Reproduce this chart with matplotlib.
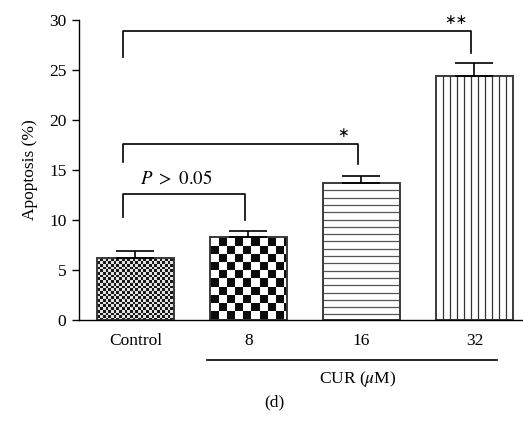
import numpy as np
import matplotlib
matplotlib.use("Agg")
import matplotlib.pyplot as plt

plt.rcParams["font.family"] = ["Liberation Serif", "DejaVu Serif"]
plt.rcParams["mathtext.fontset"] = "stix"

groups = ["Control", "8", "16", "32"]
apoptosis = [6.2, 8.3, 13.7, 24.4]
sem = [0.7, 0.6, 0.7, 1.3]
textures = ["fine_check", "coarse_check", "hlines", "vlines"]

# significance brackets: (left group, right group, bracket top, left leg end, right leg end, label)
brackets = [
    (0, 1, 12.6, 10.3, 10.0, r"$P\ >\ \mathrm{0.05}$"),
    (0, 2, 17.6, 15.8, 15.6, "*"),
    (0, 3, 28.9, 26.3, 26.7, "**"),
]

DPI = 100
fig = plt.figure(figsize=(5.23, 4.23), dpi=DPI)
ax = fig.add_axes([0.151, 0.2435, 0.849, 0.7092])

x = np.arange(len(groups))
bars = ax.bar(x, apoptosis, width=0.68, color="none", edgecolor="#3a3a3a",
              linewidth=1.4, zorder=2)
ax.errorbar(x, apoptosis, yerr=[np.zeros(len(sem)), sem], fmt="none",
            ecolor="black", elinewidth=1.2, capsize=14, capthick=1.2, zorder=4)

ax.set_xlim(-0.5, 3.43)
ax.set_ylim(0, 30)
ax.set_yticks(range(0, 31, 5))
ax.set_xticks([])
for side in ("top", "right"):
    ax.spines[side].set_visible(False)
ax.spines["left"].set_linewidth(1.0)
ax.spines["bottom"].set_linewidth(1.0)
ax.tick_params(axis="y", direction="out", length=5, width=1.0, labelsize=12.5, pad=4)
ax.set_ylabel("Apoptosis (%)", fontsize=12.5, labelpad=8)


def checker(cell, w, h, dark, light):
    jj, ii = np.meshgrid(np.arange(w), np.arange(h))
    chk = ((jj // cell).astype(int) + (ii // cell).astype(int)) % 2
    return np.where(chk == 1, dark, light)


# fill each bar with its texture, clipped to the bar outline
fig.canvas.draw()
px_per_x, px_per_y = ax.transData.transform((1, 1)) - ax.transData.transform((0, 0))
for bar, kind in zip(bars, textures):
    x0, y0 = bar.get_x(), bar.get_y()
    x1, y1 = x0 + bar.get_width(), y0 + bar.get_height()
    w = max(int(round((x1 - x0) * px_per_x)), 1)
    h = max(int(round((y1 - y0) * px_per_y)), 1)
    if kind in ("fine_check", "coarse_check"):
        img = checker(2.7, w, h, 0.1, 0.88) if kind == "fine_check" \
            else checker(8.2, w, h, 0.05, 1.0)
        im = ax.imshow(img, cmap="gray", vmin=0, vmax=1, extent=(x0, x1, y0, y1),
                       origin="upper", interpolation="nearest", aspect="auto",
                       zorder=1.5)
        im.set_clip_path(bar)
    elif kind == "hlines":
        ys = np.arange(y1, y0, -7.3 / px_per_y)[1:]
        ln = ax.hlines(ys, x0, x1, color="#555555", lw=0.9, zorder=1.5)
        ln.set_clip_path(bar)
    else:
        xs = np.arange(x0, x1, 7.0 / px_per_x)[1:]
        ln = ax.vlines(xs, y0, y1, color="#333333", lw=0.9, zorder=1.5)
        ln.set_clip_path(bar)
ax.set_xlim(-0.5, 3.43)
ax.set_ylim(0, 30)

# group tick labels under the axis
for xi, name in zip(x, groups):
    ax.text(xi, -1.3, name, ha="center", va="top", fontsize=12.5)

# treatment underline and label
ax.plot([0.635, 3.2], [-4.0, -4.0], color="black", lw=1.2, clip_on=False)
ax.text(1.97, -4.9, r"CUR ($\mu$M)", ha="center", va="top", fontsize=12.5)
fig.text(0.524, 0.03, "(d)", ha="center", va="bottom", fontsize=12.5)

# significance brackets
for a, b, top, la, lb, label in brackets:
    xa = x[a] - 0.11
    xb = x[b] - 0.03
    ax.plot([xa, xa, xb, xb], [la, top, top, lb], color="black", lw=1.2,
            clip_on=False, zorder=3)
    if label.startswith("*"):
        ax.text(xb - 0.13, top + 0.45, label.replace("*", "∗"), ha="center",
                va="bottom", fontsize=10, family=["DejaVu Sans"], clip_on=False)
    else:
        ax.text((xa + xb) / 2 - 0.07, top + 0.6, label, ha="center", va="bottom",
                fontsize=13.5)

fig.savefig("out.png", dpi=DPI)
